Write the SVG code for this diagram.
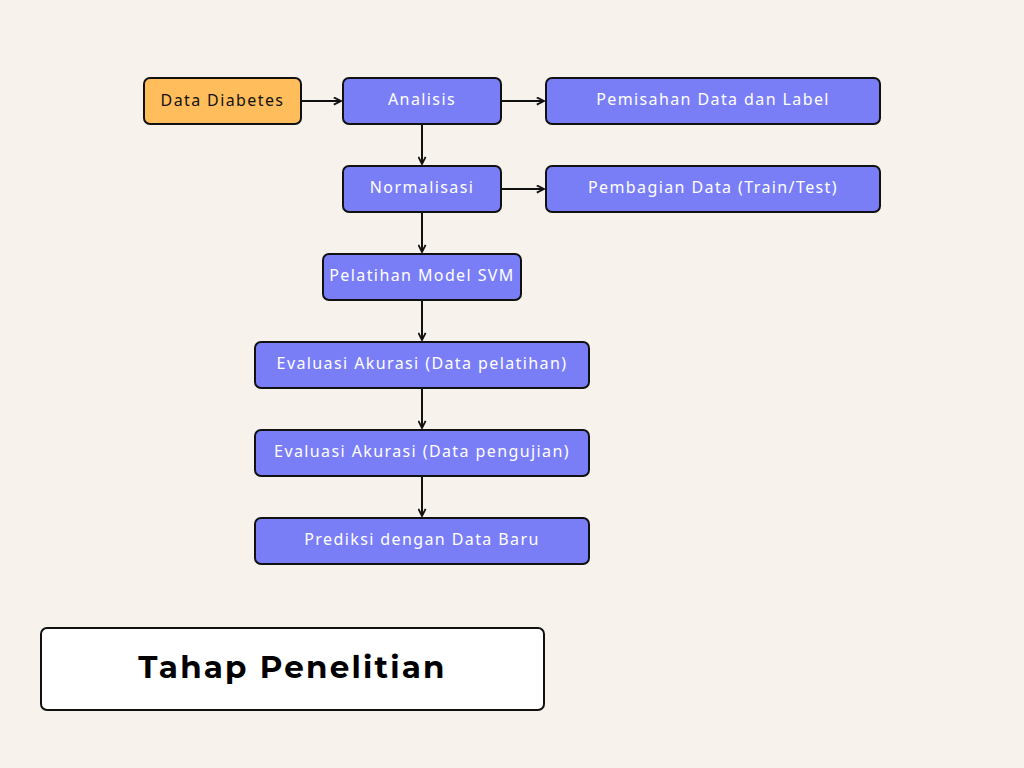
<svg xmlns="http://www.w3.org/2000/svg" width="1024" height="768" viewBox="0 0 1024 768">
<style>
.node{fill:#7A7EF6;stroke:#111;stroke-width:2}
.start{fill:#FFBE5B;stroke:#111;stroke-width:2}
.lbl{font-family:"Noto Sans","Liberation Sans",sans-serif;font-size:16px;letter-spacing:1.4px;fill:#fff;text-anchor:middle;dominant-baseline:central}
.dark{fill:#111}
.conn{stroke:#111;stroke-width:2;fill:none;marker-end:url(#ah)}
.title{font-family:"Montserrat","Noto Sans","Liberation Sans",sans-serif;font-weight:bold;font-size:31px;letter-spacing:2.2px;fill:#000;text-anchor:middle;dominant-baseline:central}
</style>
<defs>
<marker id="ah" viewBox="0 0 10 10" refX="9" refY="5" markerWidth="4.5" markerHeight="4.5" orient="auto" markerUnits="strokeWidth">
<path d="M1,1 L9,5 L1,9" fill="none" stroke="#111" stroke-width="2"/>
</marker>
</defs>
<rect width="1024" height="768" fill="#F7F3EC"/>
<g id="connectors">
<line class="conn" x1="302" y1="101" x2="341" y2="101"/>
<line class="conn" x1="502" y1="101" x2="544" y2="101"/>
<line class="conn" x1="422" y1="125" x2="422" y2="164"/>
<line class="conn" x1="502" y1="189" x2="544" y2="189"/>
<line class="conn" x1="422" y1="213" x2="422" y2="252"/>
<line class="conn" x1="422" y1="301" x2="422" y2="340"/>
<line class="conn" x1="422" y1="389" x2="422" y2="428"/>
<line class="conn" x1="422" y1="477" x2="422" y2="516"/>
</g>
<g id="data-diabetes"><rect class="start" x="144" y="78" width="157" height="46" rx="6"/><text class="lbl dark" x="222.5" y="100">Data Diabetes</text></g>
<g id="analisis"><rect class="node" x="343" y="78" width="158" height="46" rx="6"/><text class="lbl" x="422" y="99">Analisis</text></g>
<g id="pemisahan"><rect class="node" x="546" y="78" width="334" height="46" rx="6"/><text class="lbl" x="713" y="99">Pemisahan Data dan Label</text></g>
<g id="normalisasi"><rect class="node" x="343" y="166" width="158" height="46" rx="6"/><text class="lbl" x="422" y="187">Normalisasi</text></g>
<g id="pembagian"><rect class="node" x="546" y="166" width="334" height="46" rx="6"/><text class="lbl" x="713" y="187">Pembagian Data (Train/Test)</text></g>
<g id="pelatihan"><rect class="node" x="323" y="254" width="198" height="46" rx="6"/><text class="lbl" x="422" y="275">Pelatihan Model SVM</text></g>
<g id="evaluasi-latih"><rect class="node" x="255" y="342" width="334" height="46" rx="6"/><text class="lbl" x="422" y="363">Evaluasi Akurasi (Data pelatihan)</text></g>
<g id="evaluasi-uji"><rect class="node" x="255" y="430" width="334" height="46" rx="6"/><text class="lbl" x="422" y="451">Evaluasi Akurasi (Data pengujian)</text></g>
<g id="prediksi"><rect class="node" x="255" y="518" width="334" height="46" rx="6"/><text class="lbl" x="422" y="539">Prediksi dengan Data Baru</text></g>
<g id="title"><rect x="41" y="628" width="503" height="82" rx="6" fill="#fff" stroke="#111" stroke-width="2"/><text class="title" x="292.5" y="667">Tahap Penelitian</text></g>
</svg>
